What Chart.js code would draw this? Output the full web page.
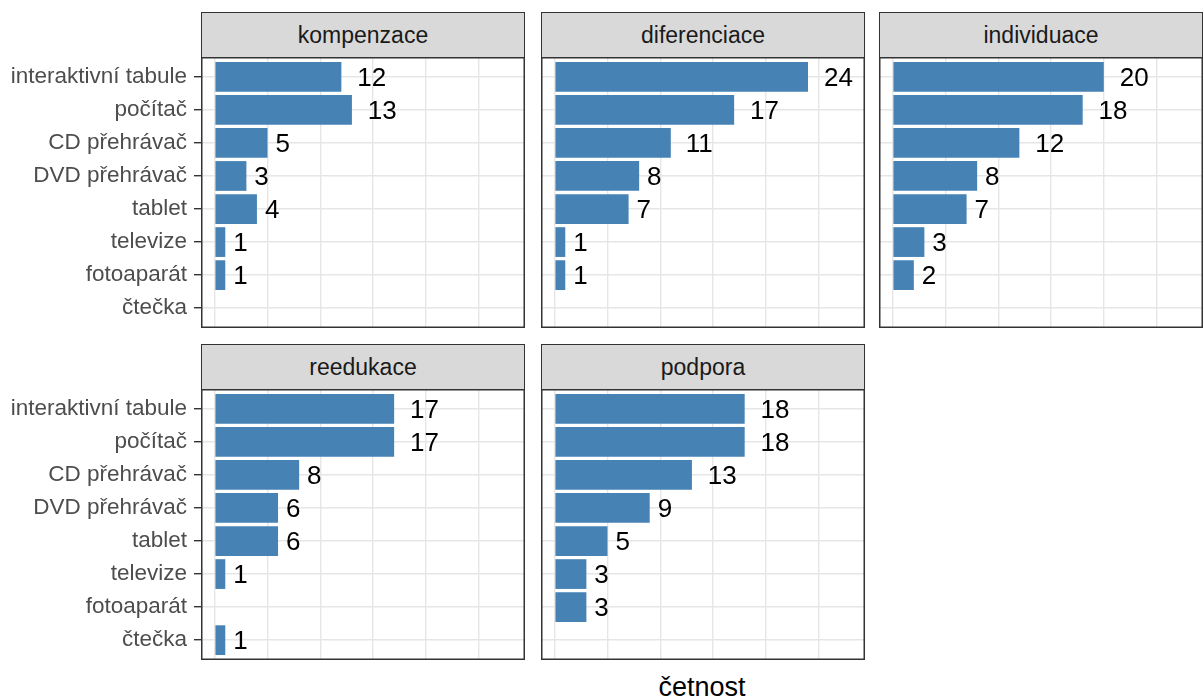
<!DOCTYPE html>
<html>
<head>
<meta charset="utf-8">
<script src="https://cdn.jsdelivr.net/npm/chart.js@4/dist/chart.umd.min.js"></script>
<style>
  body { margin: 0; background: #fff; width: 1204px; height: 700px; position: relative; overflow: hidden;
         font-family: "Liberation Sans", Arial, sans-serif; }
  .strip { position: absolute; box-sizing: border-box; background: #D9D9D9; border: 1.5px solid #333;
           color: #1A1A1A; font-size: 23px; display: flex; align-items: center; justify-content: center; }
  canvas { position: absolute; }
  #xtitle { position: absolute; left: 201px; width: 1002px; top: 672px; text-align: center; font-size: 27px; color: #000; }
</style>
</head>
<body>
<div id="xtitle">četnost</div>
<script>
// data
const categories = ["interaktivní tabule", "počítač", "CD přehrávač", "DVD přehrávač", "tablet", "televize", "fotoaparát", "čtečka"];
const panelNames = ["kompenzace", "diferenciace", "individuace", "reedukace", "podpora"];
const kompenzace   = [12, 13, 5, 3, 4, 1, 1, null];
const diferenciace = [24, 17, 11, 8, 7, 1, 1, null];
const individuace  = [20, 18, 12, 8, 7, 3, 2, null];
const reedukace    = [17, 17, 8, 6, 6, 1, null, 1];
const podpora      = [18, 18, 13, 9, 5, 3, 3, null];
const xTicks = [0, 5, 10, 15, 20, 25];

const FONT = '"Liberation Sans", Arial, sans-serif';

// layout of the facet grid
const colLeft = [201, 541, 879];
const rowTop = [12, 344];
const panelW = 324, stripH = 46, plotH = 271, axisW = 201;

const panels = [
  { name: panelNames[0], values: kompenzace,   col: 0, row: 0 },
  { name: panelNames[1], values: diferenciace, col: 1, row: 0 },
  { name: panelNames[2], values: individuace,  col: 2, row: 0 },
  { name: panelNames[3], values: reedukace,    col: 0, row: 1 },
  { name: panelNames[4], values: podpora,      col: 1, row: 1 },
];

const panelBorder = {
  id: 'panelBorder',
  afterDraw(chart) {
    const a = chart.chartArea, ctx = chart.ctx;
    ctx.save();
    ctx.strokeStyle = '#333';
    ctx.lineWidth = 1.5;
    ctx.strokeRect(a.left + 0.75, a.top + 0.75, a.right - a.left - 1.5, a.bottom - a.top - 1.5);
    ctx.restore();
  }
};

const valueLabels = {
  id: 'valueLabels',
  afterDatasetsDraw(chart) {
    const ctx = chart.ctx;
    const meta = chart.getDatasetMeta(0);
    const data = chart.data.datasets[0].data;
    ctx.save();
    ctx.font = '26px ' + FONT;
    ctx.fillStyle = '#000';
    ctx.textBaseline = 'middle';
    ctx.textAlign = 'left';
    meta.data.forEach((bar, i) => {
      const text = String(data[i].x);
      const w = ctx.measureText(text).width;
      ctx.fillText(text, bar.x + w * 0.55, bar.y + 2);
    });
    ctx.restore();
  }
};

panels.forEach(p => {
  const left = colLeft[p.col], top = rowTop[p.row];
  const showY = p.col === 0;

  const strip = document.createElement('div');
  strip.className = 'strip';
  strip.style.left = left + 'px';
  strip.style.top = top + 'px';
  strip.style.width = panelW + 'px';
  strip.style.height = stripH + 'px';
  strip.textContent = p.name;
  document.body.appendChild(strip);

  const canvas = document.createElement('canvas');
  const cw = showY ? left + panelW : panelW;
  canvas.width = cw;
  canvas.height = plotH;
  canvas.style.left = (showY ? 0 : left) + 'px';
  canvas.style.top = (top + stripH - 1) + 'px';
  canvas.style.width = cw + 'px';
  canvas.style.height = plotH + 'px';
  document.body.appendChild(canvas);

  const points = [];
  p.values.forEach((v, i) => { if (v !== null) points.push({ x: v, y: i }); });

  new Chart(canvas, {
    type: 'bar',
    data: {
      datasets: [{
        data: points,
        backgroundColor: '#4682B4',
        borderWidth: 0,
        barPercentage: 0.9,
        categoryPercentage: 1
      }]
    },
    options: {
      indexAxis: 'y',
      responsive: false,
      animation: false,
      devicePixelRatio: 1,
      layout: { padding: 0 },
      plugins: { legend: { display: false }, tooltip: { enabled: false } },
      scales: {
        x: {
          type: 'linear',
          min: -1.3, max: 29.4,
          offset: false,
          border: { display: false },
          grid: { color: '#E6E6E6', lineWidth: 1.4, drawTicks: false, offset: false },
          ticks: { display: false },
          afterBuildTicks: s => { s.ticks = xTicks.map(v => ({ value: v })); },
          afterFit: s => { s.height = 0; s.paddingLeft = 0; s.paddingRight = 0; }
        },
        y: {
          type: 'linear',
          min: -0.6, max: categories.length - 0.4,
          reverse: true,
          offset: false,
          border: { display: false },
          grid: { color: '#E6E6E6', lineWidth: 1.4, offset: false, drawTicks: showY, tickLength: 7, tickColor: '#333', tickWidth: 1.4 },
          ticks: {
            display: showY,
            autoSkip: false,
            padding: 7,
            color: '#4D4D4D',
            font: { family: FONT, size: 22.5 },
            callback: v => categories[v]
          },
          afterBuildTicks: s => { s.ticks = categories.map((c, i) => ({ value: i })); },
          afterFit: s => { s.width = showY ? axisW : 0; s.paddingTop = 0; s.paddingBottom = 0; }
        }
      }
    },
    plugins: [valueLabels, panelBorder]
  });
});
</script>
</body>
</html>
